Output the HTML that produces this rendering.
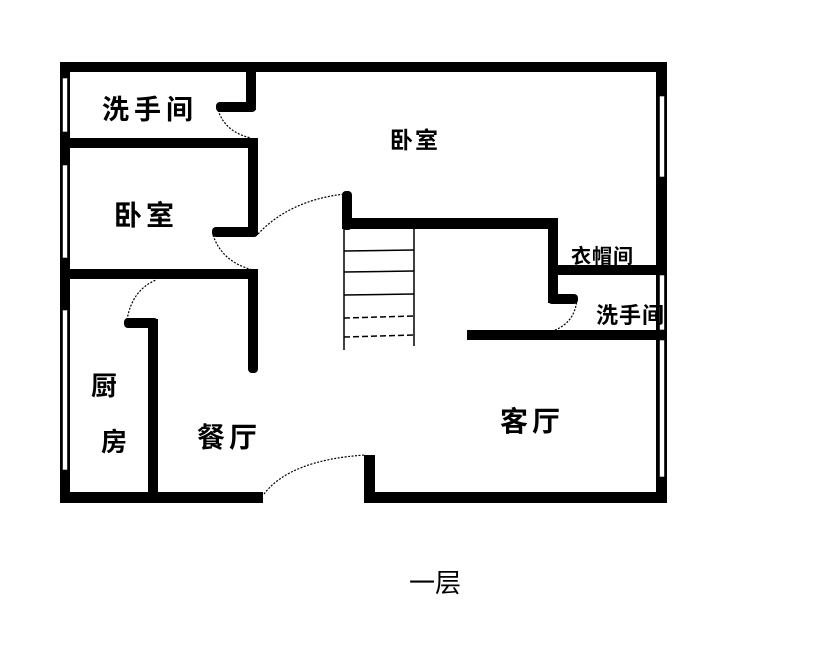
<!DOCTYPE html>
<html><head><meta charset="utf-8"><style>
html,body{margin:0;padding:0;background:#fff;}
svg{display:block;}
text{font-family:"Liberation Sans","WenQuanYi Zen Hei","Noto Sans CJK SC",sans-serif;fill:#000;font-weight:bold;}
</style></head><body>
<svg width="828" height="662" viewBox="0 0 828 662" xmlns="http://www.w3.org/2000/svg">
<g fill="#000">
<rect x="60" y="62" width="607" height="10"/>
<rect x="60" y="62" width="10" height="441"/>
<rect x="656" y="62" width="11" height="441"/>
<rect x="60" y="492" width="203" height="11"/>
<rect x="364" y="492" width="303" height="11"/>
<rect x="364" y="455" width="11" height="48"/>
<rect x="246" y="72" width="10" height="38"/>
<rect x="216" y="102" width="40" height="10" rx="4"/>
<rect x="65" y="138" width="193" height="10"/>
<rect x="248" y="138" width="10" height="97"/>
<rect x="212" y="227" width="46" height="10" rx="4"/>
<rect x="65" y="269" width="193" height="10"/>
<rect x="248" y="269" width="10" height="104" rx="4"/>
<rect x="148" y="319" width="10" height="178"/>
<rect x="124" y="318" width="34" height="10" rx="4"/>
<rect x="342" y="191" width="10" height="39" rx="4"/>
<rect x="342" y="218" width="216" height="11"/>
<rect x="548" y="218" width="10" height="85"/>
<rect x="548" y="294" width="30" height="10" rx="4"/>
<rect x="558" y="265" width="106" height="10"/>
<rect x="467" y="330" width="197" height="10"/>
</g>
<g fill="#fff" stroke="#000" stroke-width="0.6">
<rect x="62.5" y="78" width="5" height="54"/>
<rect x="62.5" y="165" width="5" height="93"/>
<rect x="62.5" y="310" width="5" height="160"/>
<rect x="659.5" y="96" width="5" height="81"/>
<rect x="659.5" y="275" width="5" height="55"/>
<rect x="659.5" y="340" width="5" height="137"/>
</g>
<g stroke="#000" stroke-width="1.5" fill="none">
<line x1="344" y1="229" x2="344" y2="350"/>
<line x1="414" y1="229" x2="414" y2="346"/>
<line x1="344" y1="251" x2="414" y2="250"/>
<line x1="344" y1="272" x2="414" y2="271"/>
<line x1="344" y1="295" x2="414" y2="294"/>
<line x1="344" y1="318" x2="414" y2="316" stroke-dasharray="6 3"/>
<line x1="344" y1="337" x2="414" y2="335" stroke-dasharray="6 3"/>
</g>
<g stroke="#000" stroke-width="1.2" fill="none" stroke-dasharray="2 1.5">
<path d="M218 110 Q225 132 251 138"/>
<path d="M258 234 Q290 200 345 194"/>
<path d="M213 235 Q222 262 253 270"/>
<path d="M127 320 Q132 290 156 280"/>
<path d="M264 494 Q290 460 365 455"/>
<path d="M577 299 Q575 322 555 330"/>
</g>
<text x="102" y="119" font-size="27" letter-spacing="5">洗手间</text>
<text x="390" y="148" font-size="23" letter-spacing="2">卧室</text>
<text x="114" y="225" font-size="28" letter-spacing="4">卧室</text>
<text x="571" y="263" font-size="20" letter-spacing="1">衣帽间</text>
<text x="596" y="323" font-size="22" letter-spacing="1">洗手间</text>
<text x="91" y="395" font-size="26">厨</text>
<text x="101" y="451" font-size="26">房</text>
<text x="197" y="447" font-size="28" letter-spacing="4">餐厅</text>
<text x="500" y="431" font-size="28" letter-spacing="4">客厅</text>
<text x="409" y="592" font-size="26" style="font-weight:normal">一层</text>
</svg>
</body></html>
